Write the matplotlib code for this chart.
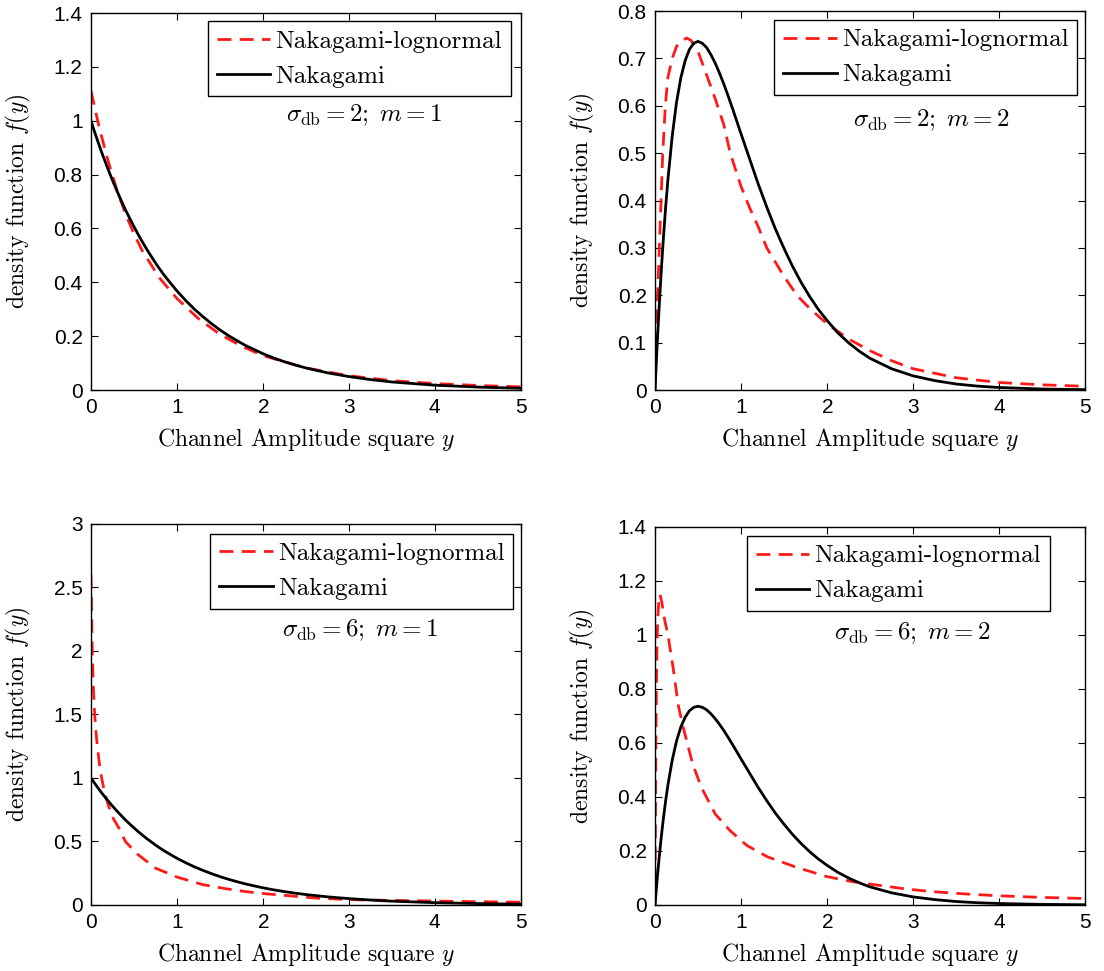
import matplotlib
matplotlib.use("Agg")
import matplotlib.pyplot as plt
from matplotlib.ticker import FormatStrFormatter

plt.rcParams["font.family"] = "serif"
plt.rcParams["font.serif"] = ["cmr10"]
plt.rcParams["mathtext.fontset"] = "cm"
plt.rcParams["axes.formatter.use_mathtext"] = True

# Nakagami curves
nak_x = [0, 0.025, 0.05, 0.075, 0.1, 0.125, 0.15, 0.2, 0.25, 0.3, 0.35, 0.4,
         0.45, 0.5, 0.55, 0.6, 0.65, 0.7, 0.75, 0.8, 0.85, 0.9, 0.95, 1.0, 1.1,
         1.2, 1.3, 1.4, 1.5, 1.6, 1.7, 1.8, 1.9, 2.0, 2.125, 2.25, 2.375, 2.5,
         2.75, 3.0, 3.25, 3.5, 3.75, 4.0, 4.5, 5.0]
nak_m1 = [1.000, 0.975, 0.951, 0.928, 0.905, 0.882, 0.861, 0.819, 0.779, 0.741,
          0.705, 0.670, 0.638, 0.607, 0.577, 0.549, 0.522, 0.497, 0.472, 0.449,
          0.427, 0.407, 0.387, 0.368, 0.333, 0.301, 0.273, 0.247, 0.223, 0.202,
          0.183, 0.165, 0.150, 0.135, 0.119, 0.105, 0.093, 0.082, 0.064, 0.050,
          0.039, 0.030, 0.024, 0.018, 0.011, 0.0067]
nak_m2 = [0, 0.095, 0.181, 0.258, 0.327, 0.389, 0.444, 0.536, 0.607, 0.659,
          0.695, 0.719, 0.732, 0.736, 0.732, 0.723, 0.708, 0.690, 0.669, 0.646,
          0.621, 0.595, 0.568, 0.541, 0.488, 0.435, 0.386, 0.340, 0.299, 0.261,
          0.227, 0.197, 0.170, 0.147, 0.121, 0.100, 0.082, 0.067, 0.045, 0.030,
          0.020, 0.0128, 0.0083, 0.0054, 0.0022, 0.0009]

# Nakagami-lognormal curves
nl_x_a = [0, 0.05, 0.1, 0.15, 0.2, 0.3, 0.4, 0.5, 0.6, 0.8, 1.0, 1.25, 1.5,
          1.75, 2.0, 2.5, 3.0, 3.5, 4.0, 4.5, 5.0]
nl_y_a = [1.11, 1.04, 0.97, 0.91, 0.85, 0.745, 0.655, 0.58, 0.515, 0.415, 0.34,
          0.265, 0.207, 0.163, 0.128, 0.082, 0.053, 0.035, 0.024, 0.017, 0.012]

nl_x_b = [0, 0.015, 0.03, 0.05, 0.07, 0.09, 0.12, 0.15, 0.2, 0.25, 0.3, 0.37,
          0.42, 0.5, 0.6, 0.7, 0.8, 0.875, 1.0, 1.1, 1.2, 1.3, 1.4, 1.5, 1.65,
          1.8, 2.0, 2.25, 2.5, 2.75, 3.0, 3.5, 4.0, 4.5, 5.0]
nl_y_b = [0, 0.10, 0.20, 0.30, 0.40, 0.50, 0.60, 0.66, 0.70, 0.725, 0.737, 0.743,
          0.738, 0.715, 0.665, 0.615, 0.56, 0.50, 0.43, 0.385, 0.345, 0.30, 0.27,
          0.24, 0.20, 0.172, 0.14, 0.108, 0.083, 0.062, 0.045, 0.026, 0.016,
          0.011, 0.008]

nl_x_c = [0, 0.003, 0.008, 0.015, 0.025, 0.043, 0.06, 0.074, 0.1, 0.124, 0.16,
          0.2, 0.26, 0.33, 0.4, 0.54, 0.75, 1.0, 1.3, 1.55, 1.8, 2.05, 2.3, 2.6,
          3.0, 3.5, 4.0, 4.5, 5.0]
nl_y_c = [2.6, 2.5, 2.25, 2.0, 1.75, 1.5, 1.35, 1.25, 1.1, 1.0, 0.88, 0.79, 0.68,
          0.6, 0.5, 0.4, 0.29, 0.22, 0.16, 0.13, 0.105, 0.087, 0.073, 0.055,
          0.042, 0.036, 0.031, 0.026, 0.022]

nl_x_d = [0, 0.005, 0.01, 0.02, 0.03, 0.045, 0.058, 0.08, 0.11, 0.15, 0.21, 0.27,
          0.33, 0.44, 0.54, 0.7, 0.87, 1.07, 1.31, 1.64, 2.0, 2.3, 2.6, 2.9, 3.2,
          3.6, 4.0, 4.5, 5.0]
nl_y_d = [0, 0.3, 0.6, 0.9, 1.05, 1.13, 1.15, 1.12, 1.06, 1.0, 0.88, 0.74, 0.655,
          0.52, 0.435, 0.337, 0.276, 0.22, 0.178, 0.14, 0.105, 0.086, 0.073, 0.06,
          0.05, 0.041, 0.034, 0.028, 0.024]

panels = [
    # axes rect, red x, red y, black y, ylim, ystep, note, note pos, legend anchor
    ([0.0824, 0.5983, 0.3895, 0.3883], nl_x_a, nl_y_a, nak_m1, 1.4, 0.2,
     r"$\sigma_{\rm db}=2;\; m=1$", (0.635, 0.73), (0.976, 0.978)),
    ([0.5933, 0.5983, 0.3895, 0.3903], nl_x_b, nl_y_b, nak_m2, 0.8, 0.1,
     r"$\sigma_{\rm db}=2;\; m=2$", (0.642, 0.712), (0.982, 0.976)),
    ([0.0824, 0.0680, 0.3895, 0.3924], nl_x_c, nl_y_c, nak_m1, 3.0, 0.5,
     r"$\sigma_{\rm db}=6;\; m=1$", (0.627, 0.72), (0.982, 0.974)),
    ([0.5933, 0.0680, 0.3895, 0.3893], nl_x_d, nl_y_d, nak_m2, 1.4, 0.2,
     r"$\sigma_{\rm db}=6;\; m=2$", (0.598, 0.72), (0.918, 0.976)),
]

fig = plt.figure(figsize=(11.04, 9.71), dpi=100)

for rect, rx, ry, by, ytop, ystep, note, npos, lpos in panels:
    ax = fig.add_axes(rect)
    ax.plot(rx, ry, color="#ff1a1a", lw=2.0, dashes=(5, 3),
            label="Nakagami-lognormal")
    ax.plot(nak_x, by, color="black", lw=2.0, label="Nakagami")
    ax.set_xlim(0, 5)
    ax.set_ylim(0, ytop)
    ax.set_xticks(range(6))
    nt = int(round(ytop / ystep))
    ax.set_yticks([i * ystep for i in range(nt + 1)])
    ax.yaxis.set_major_formatter(FormatStrFormatter("%g"))
    ax.tick_params(direction="in", top=True, right=True, length=5, width=0.8,
                   labelsize=15, pad=6)
    for lab in ax.get_xticklabels() + ax.get_yticklabels():
        lab.set_fontfamily("Liberation Sans")
    for sp in ax.spines.values():
        sp.set_linewidth(1.0)
    ax.set_xlabel(r"Channel Amplitude square $y$", fontsize=17)
    ax.set_ylabel(r"density function $f(y)$", fontsize=17)
    ax.xaxis.set_label_coords(0.5, -0.095)
    ax.yaxis.set_label_coords(-0.135, 0.5)
    ax.text(npos[0], npos[1], note, transform=ax.transAxes, fontsize=18,
            ha="center", va="center")
    leg = ax.legend(loc="upper right", bbox_to_anchor=lpos, fontsize=18,
                    fancybox=False, edgecolor="black", framealpha=1,
                    handlelength=2.15, handletextpad=0.2, borderpad=0.35,
                    labelspacing=0.5, borderaxespad=0)
    leg.get_frame().set_linewidth(1.0)

fig.savefig("out.png", dpi=100)
